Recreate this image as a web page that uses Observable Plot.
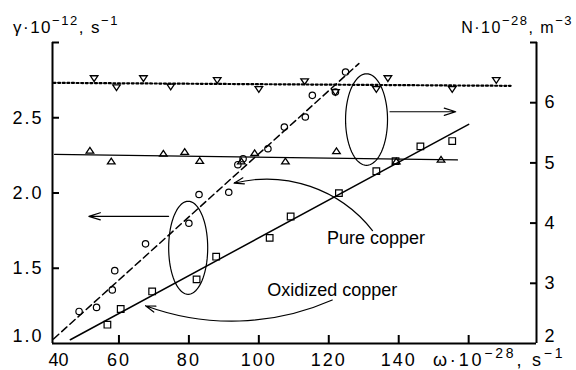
<!DOCTYPE html>
<html><head><meta charset="utf-8">
<script src="https://cdn.jsdelivr.net/npm/d3@7"></script>
<script src="https://cdn.jsdelivr.net/npm/@observablehq/plot@0.6"></script>
<style>
body{margin:0;background:#fff;}
#chart svg{font-family:"Liberation Sans",Arial,sans-serif;}
g[aria-label$="tick label"] text{letter-spacing:2px;}
</style></head><body><div id="chart"></div>
<script>
// ---- axes / ticks ----
const xDomain = [41, 179.4];
const gammaDomain = [1, 3];
const nDomain = [2, 7];
const xTickLabels = [40, 60, 80, 100, 120, 140];
const xTickMarks = [60, 80, 100, 120, 140, 160];
const gammaTickLabels = [1.0, 1.5, 2.0, 2.5];
const gammaTickMarks = [1.5, 2.0, 2.5, 3.0];
const nTickLabels = [2, 3, 4, 5, 6];
const nTickMarks = [3, 4, 5, 6, 7];

// ---- pure copper: γ (circles, dashed fit) ----
const pureOmega = [48.6, 53.6, 58.1, 58.8, 67.6, 80.0, 82.9, 91.4, 94.0, 95.5, 102.6, 107.3, 113.3, 115.3, 121.9, 124.8];
const pureGamma = [1.213, 1.240, 1.356, 1.484, 1.662, 1.799, 1.990, 2.005, 2.188, 2.228, 2.294, 2.438, 2.505, 2.649, 2.671, 2.804];
const pureFitOmega = [41.3, 128.6];
const pureFitGamma = [1.03, 2.86];

// ---- oxidized copper: γ (squares, solid fit) ----
const oxOmega = [56.7, 60.5, 69.5, 82.2, 87.8, 103.1, 109.1, 122.9, 133.6, 139.1, 146.2, 155.3];
const oxGamma = [1.125, 1.229, 1.346, 1.426, 1.577, 1.702, 1.844, 1.999, 2.145, 2.212, 2.310, 2.345];
const oxFitOmega = [46.1, 160.0];
const oxFitGamma = [1.025, 2.456];

// ---- N (right axis): down triangles, dotted fit ----
const nDownOmega = [52.9, 59.3, 67.0, 74.8, 88.1, 100.0, 113.1, 121.9, 133.6, 136.9, 155.3, 167.9];
const nDown = [6.40, 6.25, 6.40, 6.26, 6.37, 6.22, 6.35, 6.17, 6.22, 6.40, 6.22, 6.37];
const nDownFitOmega = [41.3, 172.0];
const nDownFitN = [6.33, 6.28];

// ---- N (right axis): up triangles, solid fit ----
const nUpOmega = [51.7, 57.8, 72.7, 78.8, 83.1, 95.0, 98.8, 107.6, 122.2, 139.3, 152.1];
const nUp = [5.21, 5.03, 5.16, 5.19, 5.04, 5.03, 5.17, 5.03, 5.20, 5.03, 5.06];
const nUpFitOmega = [41.6, 156.8];
const nUpFitN = [5.14, 5.05];

// ---- annotations ----
const ellipseOmega = [79.8, 130.8];
const ellipseGamma = [1.636, null];
const ellipseN = [null, 5.72];
const ellipseROmega = [5.58, 6.0];
const ellipseRGamma = [0.309, 0.304];
const labelText = ["Pure copper", "Oxidized copper"];
const labelOmega = [119.5, 102.4];
const labelGamma = [1.70, 1.356];

const toGamma = n => gammaDomain[0] + (n - nDomain[0]) * (gammaDomain[1] - gammaDomain[0]) / (nDomain[1] - nDomain[0]);
const fromGamma = g => nDomain[0] + (g - gammaDomain[0]) * (nDomain[1] - nDomain[0]) / (gammaDomain[1] - gammaDomain[0]);

const pts = (xs, ys) => xs.map((x, i) => ({x, y: ys[i]}));

const triDown = {draw(c, size){const r = Math.sqrt(size/Math.PI), w = r, h = r*1.5; c.moveTo(-w,-h/2); c.lineTo(w,-h/2); c.lineTo(0,h/2); c.closePath();}};
const triUp = {draw(c, size){const r = Math.sqrt(size/Math.PI), w = r, h = r*1.5; c.moveTo(-w,h/2); c.lineTo(w,h/2); c.lineTo(0,-h/2); c.closePath();}};
const sq = {draw(c, size){const r = Math.sqrt(size/Math.PI)*0.85; c.rect(-r,-r,2*r,2*r);}};

const ellipses = [];
ellipseOmega.forEach((cx, e) => {
  const cy = ellipseGamma[e] != null ? ellipseGamma[e] : toGamma(ellipseN[e]);
  for (let k = 0; k <= 80; k++) {
    const t = 2*Math.PI*k/80;
    ellipses.push({e, x: cx + ellipseROmega[e]*Math.cos(t), y: cy + ellipseRGamma[e]*Math.sin(t)});
  }
});

const arrowStraight = [
  {x1: 74.2, y1: 1.845, x2: 51.4, y2: 1.845},
  {x1: 137.5, y1: toGamma(5.85), x2: 156.3, y2: toGamma(5.85)}
];
const arrowPure = [{x1: 132.5, y1: 1.750, x2: 92.9, y2: 2.065}];
const arrowOx = [{x1: 121.0, y1: 1.289, x2: 67.6, y2: 1.251}];

const plot = Plot.plot({
  width: 576, height: 370,
  marginLeft: 52, marginRight: 40, marginTop: 42, marginBottom: 27,
  style: {background: "white", color: "black", fontSize: "18px", fontFamily: "Liberation Sans, Arial, sans-serif"},
  x: {domain: xDomain},
  y: {domain: gammaDomain},
  marks: [
    // fit lines
    Plot.line(pts(nDownFitOmega, nDownFitN.map(toGamma)), {x: "x", y: "y", strokeWidth: 2.2, strokeDasharray: "2,2.6"}),
    Plot.line(pts(nUpFitOmega, nUpFitN.map(toGamma)), {x: "x", y: "y", strokeWidth: 1.2}),
    Plot.line(pts(pureFitOmega, pureFitGamma), {x: "x", y: "y", strokeWidth: 1.5, strokeDasharray: "7,4"}),
    Plot.line(pts(oxFitOmega, oxFitGamma), {x: "x", y: "y", strokeWidth: 1.5}),
    // points
    Plot.dot(pts(nDownOmega, nDown.map(toGamma)), {x: "x", y: "y", symbol: triDown, r: 3.8, stroke: "black", strokeWidth: 1.3}),
    Plot.dot(pts(nUpOmega, nUp.map(toGamma)), {x: "x", y: "y", symbol: triUp, r: 3.8, stroke: "black", strokeWidth: 1.3}),
    Plot.dot(pts(pureOmega, pureGamma), {x: "x", y: "y", r: 3.2, stroke: "black", strokeWidth: 1.2}),
    Plot.dot(pts(oxOmega, oxGamma), {x: "x", y: "y", symbol: sq, r: 3.9, stroke: "black", strokeWidth: 1.2}),
    // ellipses and arrows
    Plot.line(ellipses, {x: "x", y: "y", z: "e", strokeWidth: 1.2}),
    Plot.arrow(arrowStraight, {x1: "x1", y1: "y1", x2: "x2", y2: "y2", strokeWidth: 1.2, headAngle: 35, headLength: 15}),
    Plot.arrow(arrowPure, {x1: "x1", y1: "y1", x2: "x2", y2: "y2", bend: -33, strokeWidth: 1.2, headAngle: 35, headLength: 13}),
    Plot.arrow(arrowOx, {x1: "x1", y1: "y1", x2: "x2", y2: "y2", bend: 22, strokeWidth: 1.2, headAngle: 35, headLength: 13}),
    Plot.text(labelText, {x: (d, i) => labelOmega[i], y: (d, i) => labelGamma[i], text: d => d, textAnchor: "start", fontSize: 18}),
    // frame
    Plot.ruleX([xDomain[0], xDomain[1]], {strokeWidth: 2}),
    Plot.ruleY([gammaDomain[0]], {strokeWidth: 2}),
    // ticks (inward)
    Plot.axisX({ticks: xTickMarks, tickSize: -8, tickFormat: () => "", label: null, strokeWidth: 2}),
    Plot.axisY({ticks: gammaTickMarks, anchor: "left", tickSize: -7, tickFormat: () => "", label: null, strokeWidth: 2}),
    Plot.axisY({ticks: nTickMarks.map(toGamma), anchor: "right", tickSize: -7, tickFormat: () => "", label: null, strokeWidth: 2}),
    // tick labels
    Plot.axisX({ticks: xTickLabels.filter(d => d >= xDomain[0]), tickSize: 0, tickPadding: 10, fontSize: 18, label: null}),
    Plot.text(xTickLabels.filter(d => d < xDomain[0]), {x: () => xDomain[0], frameAnchor: "bottom", dy: 10, dx: 6, lineAnchor: "top", text: d => String(d), fontSize: 18}),
    Plot.axisY({ticks: gammaTickLabels.filter(d => d > gammaDomain[0]), anchor: "left", tickSize: 0, tickPadding: 9, tickFormat: d3.format(".1f"), fontSize: 18, label: null}),
    Plot.axisY({ticks: gammaTickLabels.filter(d => d <= gammaDomain[0]), anchor: "left", tickSize: 0, tickPadding: 9, dy: -7, tickFormat: d3.format(".1f"), fontSize: 18, label: null}),
    Plot.axisY({ticks: nTickLabels.filter(d => d > nDomain[0]).map(toGamma), anchor: "right", tickSize: 0, tickPadding: 8, tickFormat: g => String(Math.round(fromGamma(g))), fontSize: 18, label: null}),
    Plot.axisY({ticks: nTickLabels.filter(d => d <= nDomain[0]).map(toGamma), anchor: "right", tickSize: 0, tickPadding: 8, dy: -7, tickFormat: g => String(Math.round(fromGamma(g))), fontSize: 18, label: null})
  ]
});

const svg = d3.select(plot);
function addLabel(x, y, parts, anchor, size, supSize, spacing) {
  const t = svg.append("text").attr("x", x).attr("y", y).attr("text-anchor", anchor)
    .attr("font-size", size).style("letter-spacing", spacing + "px").attr("fill", "black");
  let raised = false;
  for (const [s, isSup] of parts) {
    const dy = isSup && !raised ? -8 : (!isSup && raised ? 8 : 0);
    t.append("tspan").attr("dy", dy).attr("font-size", isSup ? supSize : size).text(s);
    raised = isSup;
  }
}
addLabel(13, 33, [["γ·10", false], ["−12", true], [", s", false], ["−1", true]], "start", 17, 13, 1.5);
addLabel(573, 33, [["N·10", false], ["−28", true], [", m", false], ["−3", true]], "end", 16, 13, 1.5);
addLabel(433, 366, [["ω·10", false], ["−28", true], [", s", false], ["−1", true]], "start", 18, 14, 2.8);

document.getElementById("chart").appendChild(plot);
</script></body></html>
